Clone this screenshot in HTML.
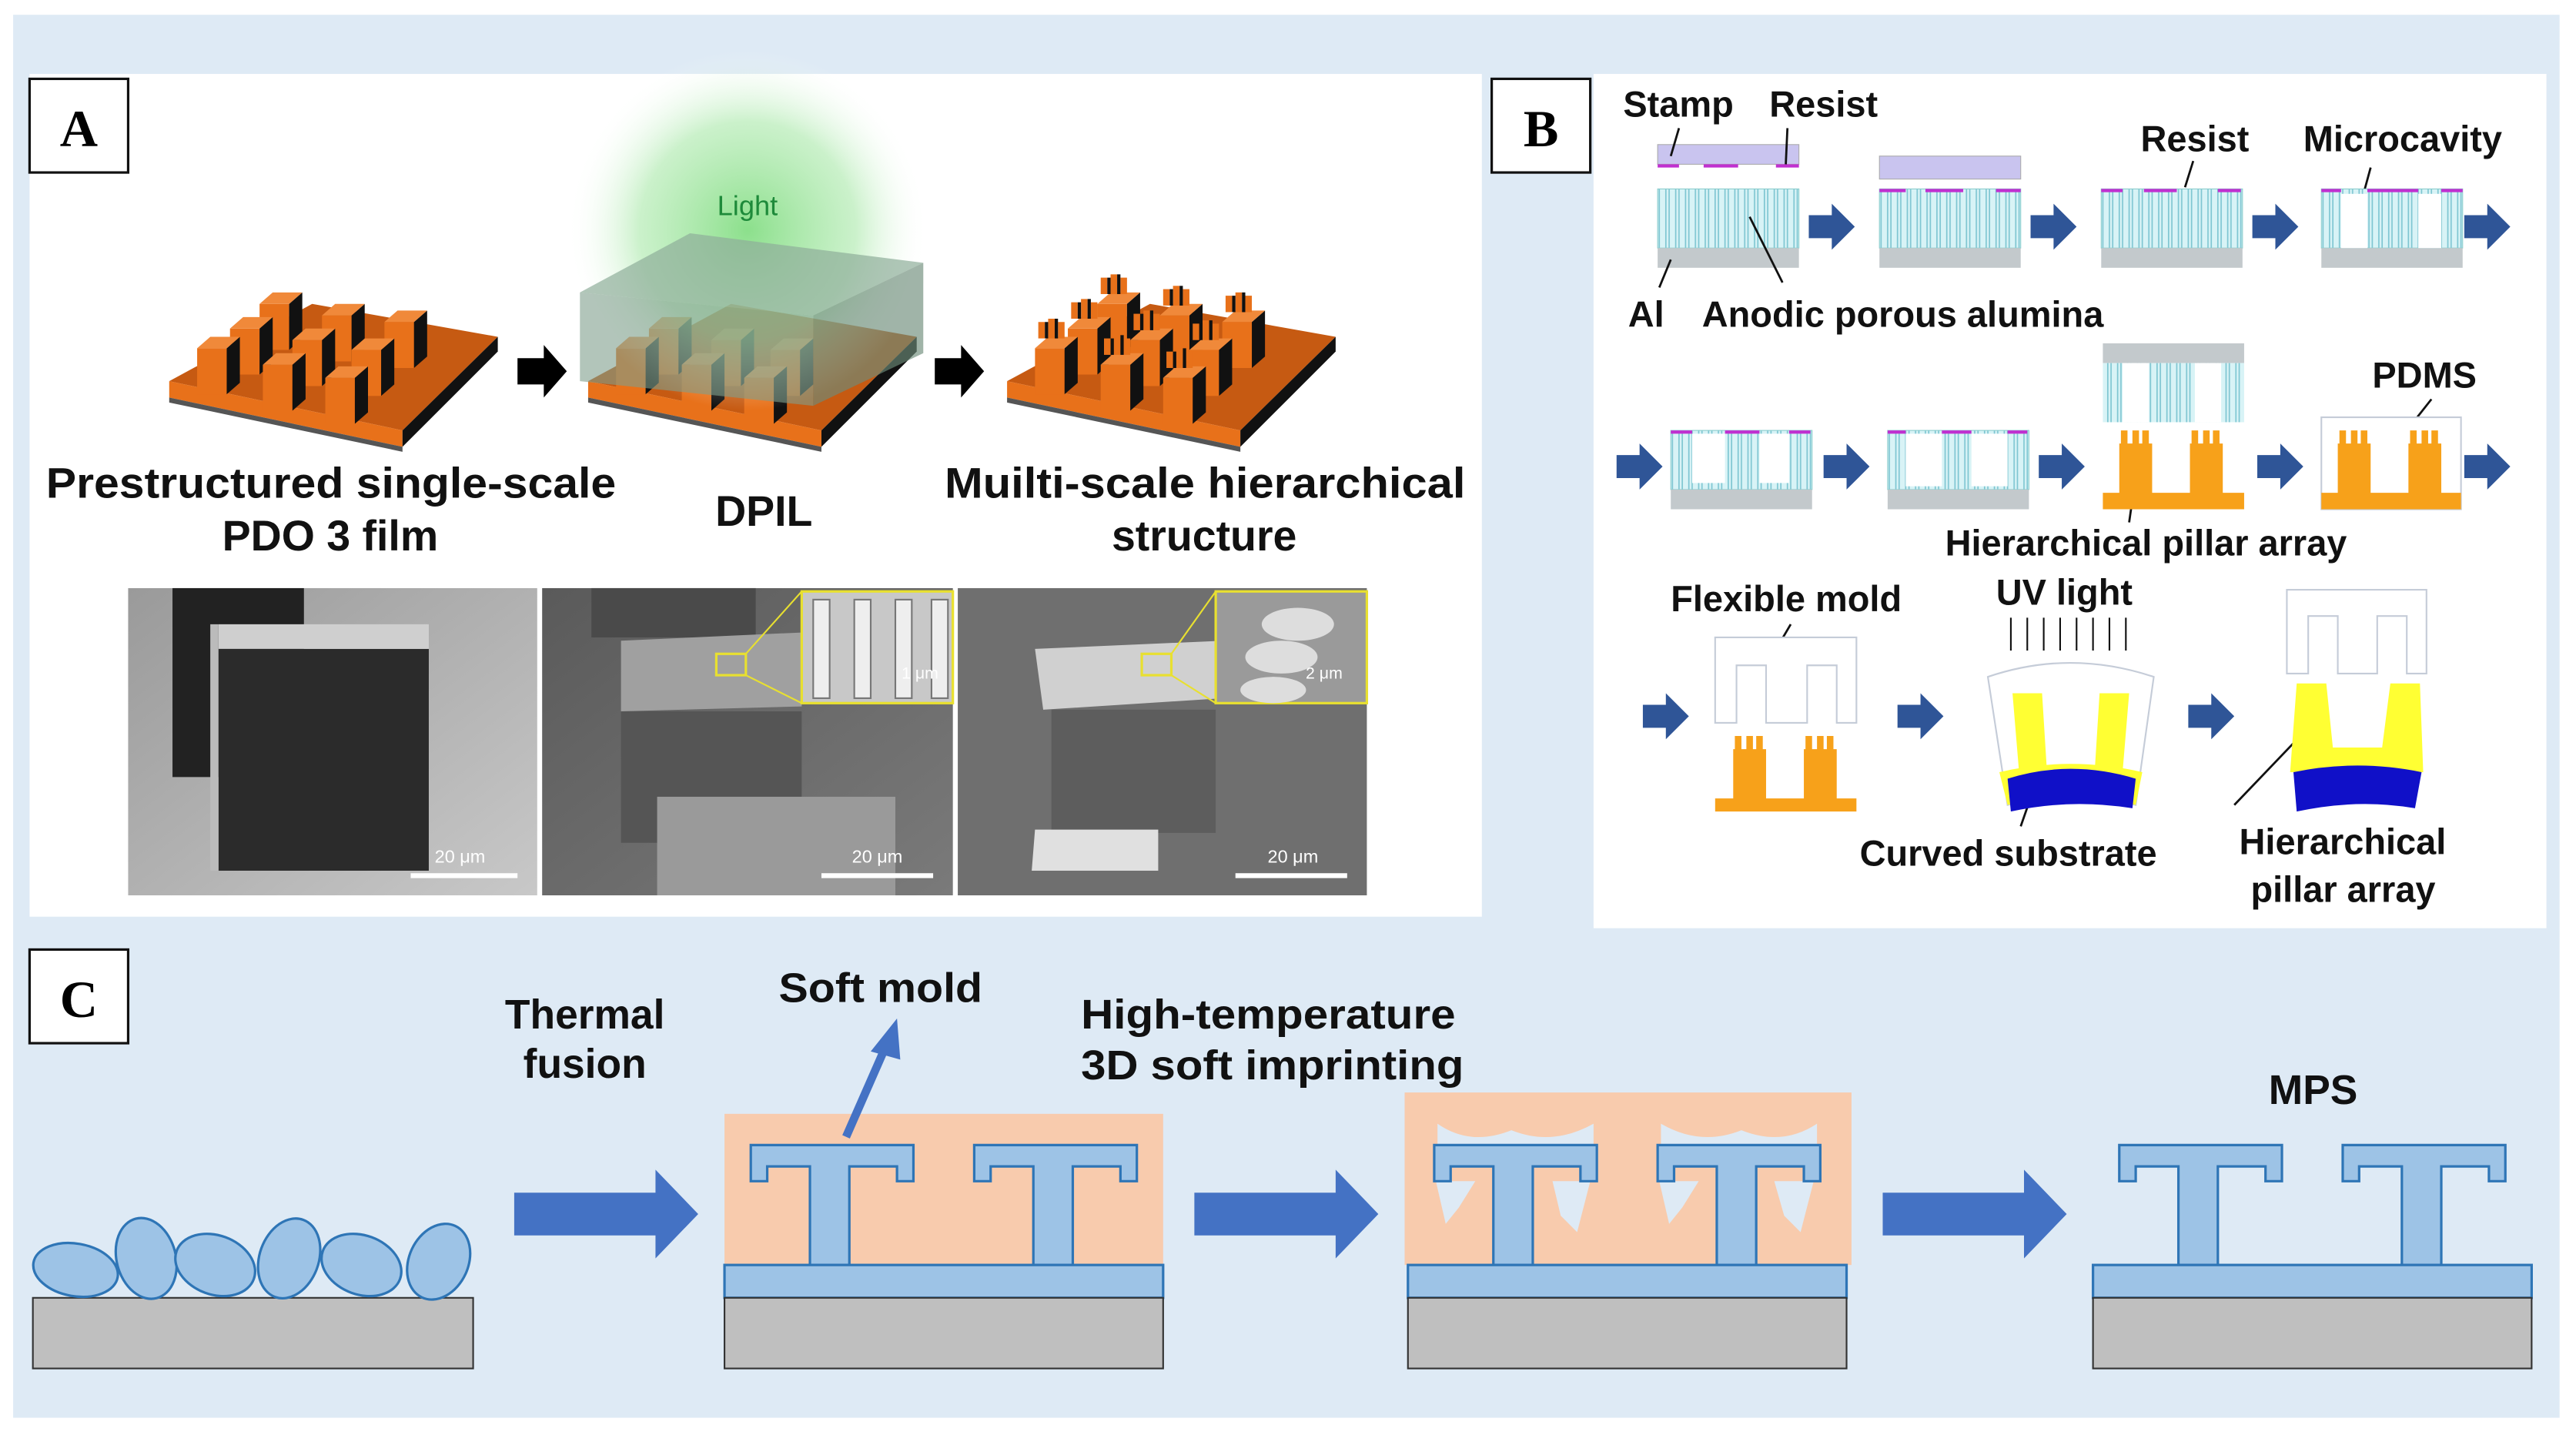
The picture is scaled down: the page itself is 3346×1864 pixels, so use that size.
<!DOCTYPE html>
<html><head><meta charset="utf-8"><style>
html,body{margin:0;padding:0;background:#fff}
svg{display:block}
text{font-family:"Liberation Sans",sans-serif}
.b{font-weight:bold;fill:#111}
</style></head><body>
<svg width="3346" height="1864" viewBox="0 0 1568 873.5" preserveAspectRatio="none" xmlns="http://www.w3.org/2000/svg">
<defs>
<radialGradient id="glow" cx="0.5" cy="0.5" r="0.5">
<stop offset="0" stop-color="#7fdc7f" stop-opacity="0.9"/>
<stop offset="0.6" stop-color="#a8e8a8" stop-opacity="0.6"/>
<stop offset="1" stop-color="#ffffff" stop-opacity="0"/>
</radialGradient>
<linearGradient id="sem1" x1="0" y1="0" x2="1" y2="1"><stop offset="0" stop-color="#9a9a9a"/><stop offset="1" stop-color="#c8c8c8"/></linearGradient>
<linearGradient id="sem2" x1="0" y1="0" x2="1" y2="1"><stop offset="0" stop-color="#5a5a5a"/><stop offset="1" stop-color="#7a7a7a"/></linearGradient>
<g id="p"><rect x="0" y="0" width="18" height="28" fill="#e8711a"/><polygon points="18,0 26,-7 26,21 18,28" fill="#111"/><polygon points="0,0 8,-7 26,-7 18,0" fill="#f0893a"/></g>
<g id="q"><use href="#p"/><rect x="2" y="-16" width="4" height="10" fill="#e8711a"/><rect x="8" y="-18" width="4" height="12" fill="#e8711a"/><rect x="14" y="-16" width="4" height="10" fill="#e8711a"/><rect x="6" y="-16" width="2" height="10" fill="#111"/><rect x="12" y="-18" width="2" height="12" fill="#111"/></g>
<g id="plat"><polygon points="103,232 245,262 303,205 190,185" fill="#c65a12"/><polygon points="103,232 245,262 245,272 103,242" fill="#e8711a"/><polygon points="245,262 303,205 303,214 245,272" fill="#111"/><polygon points="103,242 245,272 245,275 103,245" fill="#555"/></g>
<g id="arr"><path d="M0,-8 H16 V-16 L30,0 L16,16 V8 H0 Z" fill="#000"/></g>
<g id="barr"><path d="M0,-7 H14 V-14 L28,0 L14,14 V7 H0 Z" fill="#2f5597"/></g>
<pattern id="pores" width="6" height="50" patternUnits="userSpaceOnUse"><rect width="6" height="50" fill="#d8f3f6"/><line x1="1" y1="0" x2="1" y2="50" stroke="#7fc6d2" stroke-width="0.8"/><line x1="5" y1="0" x2="5" y2="50" stroke="#7fc6d2" stroke-width="0.8"/></pattern>
<g id="apa"><rect x="0" y="0" width="86" height="36" fill="url(#pores)" stroke="#8cc" stroke-width="0.5"/><rect x="0" y="36" width="86" height="12" fill="#c3c9cc"/></g>
<g id="T"><path d="M457,697 H556 V719 H546 V710 H517 V770 H493 V710 H467 V719 H457 Z" fill="#9dc3e6" stroke="#2e75b6" stroke-width="1.5"/></g>
<g id="Tp"><use href="#T"/><use href="#T" transform="translate(136,0)"/><rect x="441" y="770" width="267" height="20" fill="#9dc3e6" stroke="#2e75b6" stroke-width="1.5"/><rect x="441" y="790" width="267" height="43" fill="#bfbfbf" stroke="#333" stroke-width="1"/></g>
<g id="CA"><path d="M0,-13 H86 V-27 L112,0 L86,27 V13 H0 Z" fill="#4472c4"/></g>
</defs>

<rect x="0" y="0" width="1568" height="873.5" fill="#fff"/>
<rect x="8" y="9" width="1550" height="854" fill="#deeaf5"/>

<!-- Panel A -->
<rect x="18" y="45" width="884" height="513" fill="#fff"/>
<rect x="18" y="48" width="60" height="57" fill="#fff" stroke="#111" stroke-width="1.5"/>
<text x="48" y="89" text-anchor="middle" style="font-family:'Liberation Serif',serif;font-weight:bold;font-size:32px">A</text>

<use href="#plat"/>
<use href="#p" x="158" y="185"/><use href="#p" x="196" y="192"/><use href="#p" x="234" y="196"/>
<use href="#p" x="140" y="200"/><use href="#p" x="178" y="207"/><use href="#p" x="214" y="213"/>
<use href="#p" x="120" y="212"/><use href="#p" x="160" y="222"/><use href="#p" x="198" y="230"/>

<use href="#arr" x="315" y="226"/>
<use href="#arr" x="569" y="226"/>

<g transform="translate(255,0)"><use href="#plat"/>
<use href="#p" x="140" y="200"/><use href="#p" x="178" y="207"/><use href="#p" x="214" y="213"/>
<use href="#p" x="120" y="212"/><use href="#p" x="160" y="222"/><use href="#p" x="198" y="230"/></g>
<circle cx="455" cy="140" r="110" fill="url(#glow)"/>
<polygon points="353,178 495,192 562,160 420,142" fill="#8fae9a" fill-opacity="0.7"/>
<polygon points="353,178 495,192 495,247 353,232" fill="#7f9f8c" fill-opacity="0.6"/>
<polygon points="495,192 562,160 562,215 495,247" fill="#6d8c7a" fill-opacity="0.65"/>
<text x="455" y="131" text-anchor="middle" style="font-size:17px;fill:#1e8a3a">Light</text>

<g transform="translate(510,0)"><use href="#plat"/>
<use href="#q" x="158" y="185"/><use href="#q" x="196" y="192"/><use href="#q" x="234" y="196"/>
<use href="#q" x="140" y="200"/><use href="#q" x="178" y="207"/><use href="#q" x="214" y="213"/>
<use href="#q" x="120" y="212"/><use href="#q" x="160" y="222"/><use href="#q" x="198" y="230"/></g>

<text class="b" x="28" y="303" textLength="347" lengthAdjust="spacingAndGlyphs" style="font-size:26px">Prestructured single-scale</text>
<text class="b" x="201" y="335" text-anchor="middle" style="font-size:26px">PDO 3 film</text>
<text class="b" x="465" y="320" text-anchor="middle" style="font-size:26px">DPIL</text>
<text class="b" x="575" y="303" textLength="317" lengthAdjust="spacingAndGlyphs" style="font-size:26px">Muilti-scale hierarchical</text>
<text class="b" x="733" y="335" text-anchor="middle" style="font-size:26px">structure</text>

<rect x="78" y="358" width="249" height="187" fill="url(#sem1)"/>
<rect x="105" y="358" width="80" height="115" fill="#222"/>
<rect x="133" y="395" width="128" height="135" fill="#2b2b2b"/>
<polygon points="133,395 261,395 261,380 133,380" fill="#cfcfcf"/>
<rect x="128" y="380" width="5" height="150" fill="#bbb"/>
<line x1="250" y1="533" x2="315" y2="533" stroke="#fff" stroke-width="3"/>
<text x="280" y="525" text-anchor="middle" style="font-size:11px;fill:#fff">20 μm</text>

<rect x="330" y="358" width="250" height="187" fill="url(#sem2)"/>
<rect x="360" y="358" width="100" height="30" fill="#4a4a4a"/>
<polygon points="378,390 488,385 488,430 378,433" fill="#a0a0a0"/>
<rect x="378" y="433" width="110" height="80" fill="#555"/>
<rect x="400" y="485" width="145" height="60" fill="#9a9a9a"/>
<rect x="436" y="398" width="18" height="13" fill="none" stroke="#e8e030" stroke-width="1.5"/>
<line x1="454" y1="398" x2="488" y2="360" stroke="#e8e030" stroke-width="1"/><line x1="454" y1="411" x2="488" y2="428" stroke="#e8e030" stroke-width="1"/>
<rect x="488" y="360" width="92" height="68" fill="#c8c8c8" stroke="#e8e030" stroke-width="1.5"/>
<g fill="#eee" stroke="#777" stroke-width="1"><rect x="495" y="365" width="10" height="60"/><rect x="520" y="365" width="10" height="60"/><rect x="545" y="365" width="10" height="60"/><rect x="567" y="365" width="10" height="60"/></g>
<line x1="500" y1="533" x2="568" y2="533" stroke="#fff" stroke-width="3"/>
<text x="534" y="525" text-anchor="middle" style="font-size:11px;fill:#fff">20 μm</text>
<text x="560" y="413" text-anchor="middle" style="font-size:10px;fill:#fff">1 μm</text>

<rect x="583" y="358" width="249" height="187" fill="#6f6f6f"/>
<polygon points="630,395 745,390 745,425 635,432" fill="#d0d0d0"/>
<rect x="640" y="432" width="100" height="75" fill="#5d5d5d"/>
<polygon points="630,505 705,505 705,530 628,530" fill="#e0e0e0"/>
<rect x="695" y="398" width="18" height="13" fill="none" stroke="#e8e030" stroke-width="1.5"/>
<line x1="713" y1="398" x2="740" y2="360" stroke="#e8e030" stroke-width="1"/><line x1="713" y1="411" x2="740" y2="428" stroke="#e8e030" stroke-width="1"/>
<rect x="740" y="360" width="92" height="68" fill="#9a9a9a" stroke="#e8e030" stroke-width="1.5"/>
<g fill="#ddd"><ellipse cx="790" cy="380" rx="22" ry="10"/><ellipse cx="780" cy="400" rx="22" ry="10"/><ellipse cx="775" cy="420" rx="20" ry="8"/></g>
<line x1="752" y1="533" x2="820" y2="533" stroke="#fff" stroke-width="3"/>
<text x="787" y="525" text-anchor="middle" style="font-size:11px;fill:#fff">20 μm</text>
<text x="806" y="413" text-anchor="middle" style="font-size:10px;fill:#fff">2 μm</text>

<!-- Panel B -->
<rect x="970" y="45" width="580" height="520" fill="#fff"/>
<rect x="908" y="48" width="60" height="57" fill="#fff" stroke="#111" stroke-width="1.5"/>
<text x="938" y="89" text-anchor="middle" style="font-family:'Liberation Serif',serif;font-weight:bold;font-size:32px">B</text>

<text class="b" x="988" y="71" style="font-size:22px">Stamp</text>
<text class="b" x="1077" y="71" style="font-size:22px">Resist</text>
<text class="b" x="1303" y="92" style="font-size:22px">Resist</text>
<text class="b" x="1402" y="92" style="font-size:22px">Microcavity</text>
<text class="b" x="991" y="199" style="font-size:22px">Al</text>
<text class="b" x="1036" y="199" style="font-size:22px">Anodic porous alumina</text>
<text class="b" x="1444" y="236" style="font-size:22px">PDMS</text>
<text class="b" x="1184" y="338" style="font-size:22px">Hierarchical pillar array</text>
<text class="b" x="1017" y="372" style="font-size:22px">Flexible mold</text>
<text class="b" x="1215" y="368" style="font-size:22px">UV light</text>
<text class="b" x="1132" y="527" style="font-size:22px">Curved substrate</text>
<text class="b" x="1363" y="520" style="font-size:22px">Hierarchical</text>
<text class="b" x="1370" y="549" style="font-size:22px">pillar array</text>

<rect x="1009" y="88" width="86" height="12" fill="#c9c4ef" stroke="#aaa" stroke-width="0.5"/>
<g stroke="#c030d0" stroke-width="2"><line x1="1009" y1="101" x2="1022" y2="101"/><line x1="1037" y1="101" x2="1058" y2="101"/><line x1="1081" y1="101" x2="1095" y2="101"/></g>
<use href="#apa" x="1009" y="115"/>
<g stroke="#111" stroke-width="1.3" fill="none"><line x1="1022" y1="78" x2="1017" y2="95"/><line x1="1088" y1="78" x2="1087" y2="100"/><line x1="1065" y1="132" x2="1085" y2="172"/><line x1="1017" y1="158" x2="1010" y2="175"/><line x1="1335" y1="98" x2="1330" y2="114"/><line x1="1443" y1="102" x2="1437" y2="124"/><line x1="1480" y1="243" x2="1465" y2="262"/><line x1="1300" y1="290" x2="1296" y2="318"/><line x1="1090" y1="380" x2="1080" y2="397"/><line x1="1238" y1="480" x2="1230" y2="503"/><line x1="1405" y1="443" x2="1360" y2="490"/></g>
<use href="#barr" x="1101" y="138"/>
<rect x="1144" y="95" width="86" height="14" fill="#c9c4ef" stroke="#aaa" stroke-width="0.5"/>
<use href="#apa" x="1144" y="115"/>
<g stroke="#c030d0" stroke-width="2"><line x1="1144" y1="116" x2="1160" y2="116"/><line x1="1172" y1="116" x2="1195" y2="116"/><line x1="1215" y1="116" x2="1230" y2="116"/></g>
<use href="#barr" x="1236" y="138"/>
<use href="#apa" x="1279" y="115"/>
<g stroke="#c030d0" stroke-width="2"><line x1="1279" y1="116" x2="1292" y2="116"/><line x1="1305" y1="116" x2="1325" y2="116"/><line x1="1350" y1="116" x2="1364" y2="116"/></g>
<use href="#barr" x="1371" y="138"/>
<use href="#apa" x="1413" y="115"/>
<rect x="1425" y="118" width="16" height="33" fill="#fff"/><rect x="1472" y="118" width="14" height="33" fill="#fff"/>
<g stroke="#c030d0" stroke-width="2"><line x1="1413" y1="116" x2="1425" y2="116"/><line x1="1441" y1="116" x2="1472" y2="116"/><line x1="1486" y1="116" x2="1499" y2="116"/></g>
<use href="#barr" x="1500" y="138"/>

<use href="#barr" x="984" y="284"/>
<use href="#apa" x="1017" y="262"/>
<rect x="1030" y="264" width="20" height="30" fill="#fff"/><rect x="1071" y="264" width="18" height="30" fill="#fff"/>
<g stroke="#c030d0" stroke-width="2"><line x1="1017" y1="263" x2="1030" y2="263"/><line x1="1050" y1="263" x2="1071" y2="263"/><line x1="1089" y1="263" x2="1102" y2="263"/></g>
<use href="#barr" x="1110" y="284"/>
<use href="#apa" x="1149" y="262"/>
<rect x="1160" y="264" width="22" height="32" fill="#fff"/><rect x="1200" y="264" width="22" height="32" fill="#fff"/>
<g stroke="#c030d0" stroke-width="2"><line x1="1149" y1="263" x2="1160" y2="263"/><line x1="1182" y1="263" x2="1200" y2="263"/><line x1="1222" y1="263" x2="1234" y2="263"/></g>
<use href="#barr" x="1241" y="284"/>
<rect x="1280" y="209" width="86" height="12" fill="#c3c9cc"/>
<rect x="1280" y="221" width="86" height="36" fill="url(#pores)"/>
<rect x="1292" y="221" width="16" height="36" fill="#fff"/><rect x="1336" y="221" width="16" height="36" fill="#fff"/>
<path d="M1280,310 V300 H1290 V270 H1310 V300 H1333 V270 H1353 V300 H1366 V310 Z M1291,270 V262 H1295 V270 M1298,270 V262 H1302 V270 M1304,270 V262 H1308 V270 M1334,270 V262 H1338 V270 M1341,270 V262 H1345 V270 M1347,270 V262 H1351 V270" fill="#f7a11a"/>
<use href="#barr" x="1374" y="284"/>
<rect x="1413" y="254" width="85" height="56" fill="#fff" stroke="#c5ccd8" stroke-width="1"/>
<path d="M1413,310 V300 H1423 V270 H1443 V300 H1466 V270 H1486 V300 H1498 V310 Z M1424,270 V262 H1428 V270 M1431,270 V262 H1435 V270 M1437,270 V262 H1441 V270 M1467,270 V262 H1471 V270 M1474,270 V262 H1478 V270 M1480,270 V262 H1484 V270" fill="#f7a11a"/>
<use href="#barr" x="1500" y="284"/>

<use href="#barr" x="1000" y="436"/>
<path d="M1044,440 V388 H1130 V440 H1118 V405 H1100 V440 H1075 V405 H1057 V440 Z" fill="#fff" stroke="#c5ccd8" stroke-width="1"/>
<path d="M1044,494 V486 H1055 V456 H1075 V486 H1098 V456 H1118 V486 H1130 V494 Z M1056,456 V448 H1060 V456 M1063,456 V448 H1067 V456 M1069,456 V448 H1073 V456 M1099,456 V448 H1103 V456 M1106,456 V448 H1110 V456 M1112,456 V448 H1116 V456" fill="#f7a11a"/>
<use href="#barr" x="1155" y="436"/>
<g stroke="#111" stroke-width="1"><line x1="1224" y1="376" x2="1224" y2="396"/><line x1="1234" y1="376" x2="1234" y2="396"/><line x1="1244" y1="376" x2="1244" y2="396"/><line x1="1254" y1="376" x2="1254" y2="396"/><line x1="1264" y1="376" x2="1264" y2="396"/><line x1="1274" y1="376" x2="1274" y2="396"/><line x1="1284" y1="376" x2="1284" y2="396"/><line x1="1294" y1="376" x2="1294" y2="396"/></g>
<path d="M1210,412 Q1260,395 1311,412 L1300,490 Q1260,480 1222,490 Z" fill="#fff" stroke="#c5ccd8"/>
<path d="M1217,470 Q1260,460 1304,470 L1300,490 Q1260,480 1222,490 Z" fill="#ffff33"/>
<path d="M1229,470 L1225,422 L1243,422 L1246,470 Z M1275,470 L1278,422 L1296,422 L1292,470 Z" fill="#ffff33"/>
<path d="M1222,474 Q1260,462 1300,474 L1298,492 Q1260,486 1224,494 Z" fill="#1010c8"/>
<use href="#barr" x="1332" y="436"/>
<path d="M1392,410 V359 H1477 V410 H1465 V375 H1447 V410 H1423 V375 H1405 V410 Z" fill="#fff" stroke="#c5ccd8" stroke-width="1"/>
<path d="M1394,470 L1398,416 L1416,416 L1420,455 L1450,455 L1455,416 L1473,416 L1475,470 Z" fill="#ffff33"/>
<path d="M1396,470 Q1435,462 1474,470 L1470,492 Q1435,486 1398,494 Z" fill="#1010c8"/>

<!-- Panel C -->
<rect x="18" y="578" width="60" height="57" fill="#fff" stroke="#111" stroke-width="1.5"/>
<text x="48" y="619" text-anchor="middle" style="font-family:'Liberation Serif',serif;font-weight:bold;font-size:32px">C</text>
<text class="b" x="356" y="626" text-anchor="middle" style="font-size:25px">Thermal</text>
<text class="b" x="356" y="656" text-anchor="middle" style="font-size:25px">fusion</text>
<text class="b" x="474" y="610" textLength="124" lengthAdjust="spacingAndGlyphs" style="font-size:25px">Soft mold</text>
<text class="b" x="658" y="626" textLength="228" lengthAdjust="spacingAndGlyphs" style="font-size:25px">High-temperature</text>
<text class="b" x="658" y="657" textLength="233" lengthAdjust="spacingAndGlyphs" style="font-size:25px">3D soft imprinting</text>
<text class="b" x="1408" y="672" text-anchor="middle" style="font-size:25px">MPS</text>

<rect x="20" y="790" width="268" height="43" fill="#bfbfbf" stroke="#333" stroke-width="1"/>
<g fill="#9dc3e6" stroke="#2e75b6" stroke-width="1.5">
<ellipse cx="46" cy="773" rx="26" ry="16" transform="rotate(10 46 773)"/>
<ellipse cx="89" cy="766" rx="18" ry="25" transform="rotate(-15 89 766)"/>
<ellipse cx="131" cy="770" rx="25" ry="18" transform="rotate(20 131 770)"/>
<ellipse cx="176" cy="766" rx="18" ry="25" transform="rotate(20 176 766)"/>
<ellipse cx="220" cy="770" rx="25" ry="18" transform="rotate(20 220 770)"/>
<ellipse cx="267" cy="768" rx="18" ry="24" transform="rotate(25 267 768)"/>
</g>
<use href="#CA" x="313" y="739"/>
<rect x="441" y="678" width="267" height="92" fill="#f8cbad"/>
<use href="#Tp"/>
<path d="M515,692 L540,635" stroke="#4472c4" stroke-width="5"/>
<polygon points="546,620 530,640 548,645" fill="#4472c4"/>
<use href="#CA" x="727" y="739"/>
<rect x="855" y="665" width="272" height="105" fill="#f8cbad"/>
<path d="M875,697 V684 Q895,698 920,688 Q945,698 970,684 V697 Z M1011,697 V684 Q1035,698 1060,688 Q1085,698 1106,684 V697 Z" fill="#deeaf5"/>
<path d="M874,719 L880,745 L888,735 L898,719 Z M945,719 L950,740 L960,750 L968,719 Z M1010,719 L1016,745 L1024,735 L1034,719 Z M1080,719 L1086,740 L1096,750 L1104,719 Z" fill="#deeaf5"/>
<use href="#Tp" transform="translate(416,0)"/>
<use href="#CA" x="1146" y="739"/>
<use href="#Tp" transform="translate(833,0)"/>
</svg>
</body></html>
